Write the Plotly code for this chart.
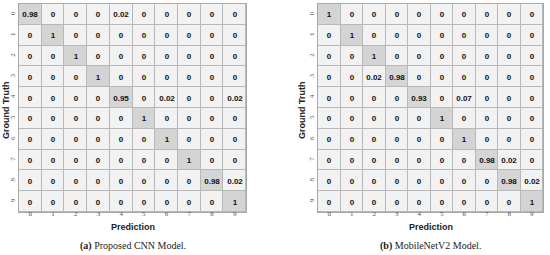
import plotly.graph_objects as go

classes = [str(i) for i in range(10)]

cnn_matrix = [
    [0.98, 0, 0, 0, 0.02, 0, 0, 0, 0, 0],
    [0, 1, 0, 0, 0, 0, 0, 0, 0, 0],
    [0, 0, 1, 0, 0, 0, 0, 0, 0, 0],
    [0, 0, 0, 1, 0, 0, 0, 0, 0, 0],
    [0, 0, 0, 0, 0.95, 0, 0.02, 0, 0, 0.02],
    [0, 0, 0, 0, 0, 1, 0, 0, 0, 0],
    [0, 0, 0, 0, 0, 0, 1, 0, 0, 0],
    [0, 0, 0, 0, 0, 0, 0, 1, 0, 0],
    [0, 0, 0, 0, 0, 0, 0, 0, 0.98, 0.02],
    [0, 0, 0, 0, 0, 0, 0, 0, 0, 1],
]

mobilenet_matrix = [
    [1, 0, 0, 0, 0, 0, 0, 0, 0, 0],
    [0, 1, 0, 0, 0, 0, 0, 0, 0, 0],
    [0, 0, 1, 0, 0, 0, 0, 0, 0, 0],
    [0, 0, 0.02, 0.98, 0, 0, 0, 0, 0, 0],
    [0, 0, 0, 0, 0.93, 0, 0.07, 0, 0, 0],
    [0, 0, 0, 0, 0, 1, 0, 0, 0, 0],
    [0, 0, 0, 0, 0, 0, 1, 0, 0, 0],
    [0, 0, 0, 0, 0, 0, 0, 0.98, 0.02, 0],
    [0, 0, 0, 0, 0, 0, 0, 0, 0.98, 0.02],
    [0, 0, 0, 0, 0, 0, 0, 0, 0, 1],
]

captions = ["<b>(a)</b> Proposed CNN Model.", "<b>(b)</b> MobileNetV2 Model."]
x_title = "Prediction"
y_title = "Ground Truth"

colorscale = [[0, "#f2f2f2"], [0.5, "#ececec"], [1, "#d4d4d4"]]

def fmt(v):
    return f"{v:g}"

fig = go.Figure()

domains_x = [[19 / 550, 246 / 550], [318 / 550, 543 / 550]]
dom_y = [1 - 212 / 255, 1 - 4 / 255]
mats = [cnn_matrix, mobilenet_matrix]

for i, (mat, dx) in enumerate(zip(mats, domains_x)):
    xa = "x" if i == 0 else "x2"
    ya = "y" if i == 0 else "y2"
    fig.add_trace(go.Heatmap(
        z=mat, x=classes, y=classes,
        text=[[fmt(v) for v in row] for row in mat],
        texttemplate="<b>%{text}</b>",
        textfont=dict(family="Liberation Sans, Arial", size=8, color="#111111"),
        colorscale=colorscale, zmin=0, zmax=1, showscale=False,
        xgap=1, ygap=1, xaxis=xa, yaxis=ya, hoverinfo="skip",
    ))
    sfx = "" if i == 0 else "2"
    axis_common = dict(
        showgrid=False, zeroline=False, showline=True, linecolor="#a8a8a8",
        linewidth=1, mirror=True, ticks="", automargin=False,
        tickfont=dict(family="Liberation Serif, Times New Roman", size=7, color="#555555"),
    )
    fig.update_layout(**{
        "xaxis" + sfx: dict(domain=dx, anchor=ya, type="category",
                            ticklabelstandoff=-5, **axis_common),
        "yaxis" + sfx: dict(domain=dom_y, anchor=xa, type="category",
                            autorange="reversed", tickangle=-90, **axis_common),
    })
    cx = (dx[0] + dx[1]) / 2
    fig.add_annotation(text=f"<b>{x_title}</b>", x=cx, y=1 - 226.5 / 255,
                       xref="paper", yref="paper", showarrow=False, borderpad=0,
                       xanchor="center", yanchor="middle",
                       font=dict(family="Liberation Sans, Arial", size=9, color="#222222"))
    fig.add_annotation(text=captions[i], x=cx, y=1 - 246 / 255,
                       xref="paper", yref="paper", showarrow=False,
                       xanchor="center", yanchor="middle",
                       font=dict(family="Liberation Serif, Times New Roman", size=10, color="#222222"))
    gx = 6 / 550 if i == 0 else 302 / 550
    fig.add_annotation(text=f"<b>{y_title}</b>", x=gx, y=1 - 110 / 255,
                       xref="paper", yref="paper", showarrow=False, textangle=-90,
                       xanchor="center", yanchor="middle",
                       font=dict(family="Liberation Sans, Arial", size=9, color="#222222"))

fig.update_layout(
    width=550, height=255,
    margin=dict(l=0, r=0, t=0, b=0),
    paper_bgcolor="white",
    plot_bgcolor="#b8b8b8",
    showlegend=False,
)

fig.write_html("out.html", config={"displayModeBar": False},
               post_script="document.body.style.margin='0';document.body.style.overflow='hidden';")
